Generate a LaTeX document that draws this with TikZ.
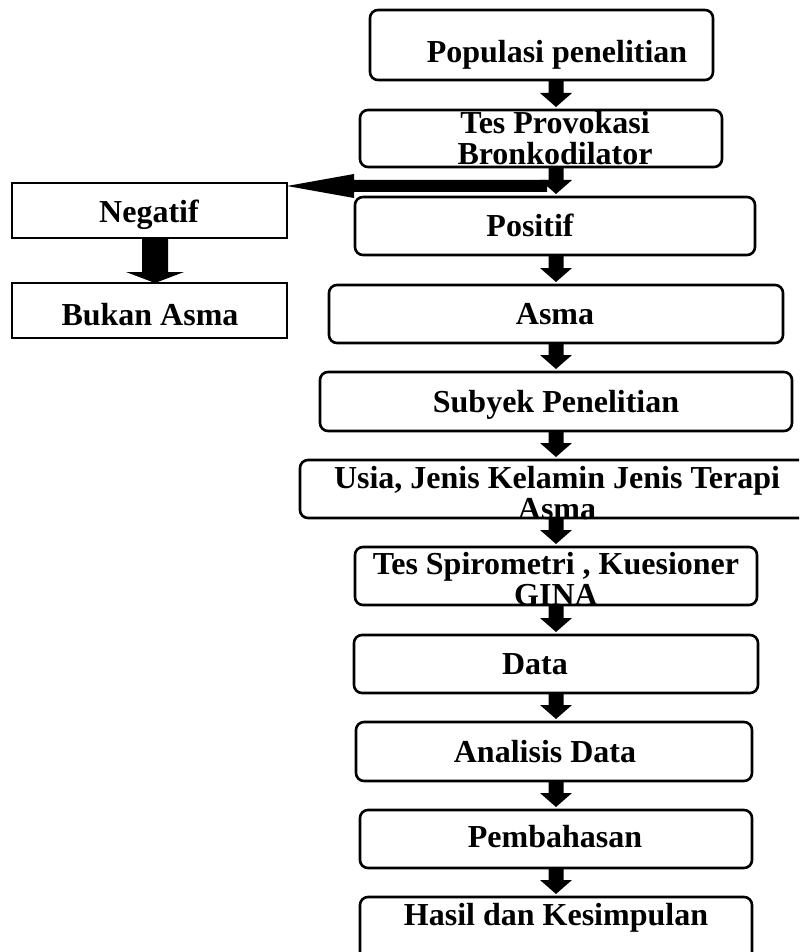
\documentclass[tikz,border=0pt]{standalone}
\usepackage{fontspec}
\setmainfont{Liberation Serif}
\usetikzlibrary{calc}
\begin{document}
\begin{tikzpicture}[x=0.5pt,y=-0.5pt,
  rbox/.style={draw,line width=1.3pt,rounded corners=4pt,inner sep=0pt,outer sep=0pt},
  sbox/.style={draw,line width=1pt,inner sep=0pt,outer sep=0pt},
  txt/.style={font=\fontsize{16}{15.5}\selectfont\bfseries,inner sep=0pt,align=center,anchor=base}]
\useasboundingbox (0,0) rectangle (799,952);
\clip (0,0) rectangle (799,952);
\coordinate (axis) at (556,0);
\coordinate (laxis) at (155,0);
% boxes
\node[rbox,minimum width=171.5pt,minimum height=35pt] (pop) at (541.5,45) {};
\node[rbox,minimum width=181pt,minimum height=28.5pt] (tp) at (541,138.5) {};
\node[rbox,minimum width=200pt,minimum height=29pt] (pos) at (555,226) {};
\node[sbox,minimum width=137.5pt,minimum height=27.5pt] (neg) at (149.5,210.5) {};
\node[sbox,minimum width=137.5pt,minimum height=27.5pt] (buk) at (149.5,310.5) {};
\node[rbox,minimum width=227pt,minimum height=29pt] (asma) at (556,314) {};
\node[rbox,minimum width=236pt,minimum height=29.5pt] (sub) at (556,401.5) {};
\node[rbox,minimum width=265pt,minimum height=29pt] (usia) at (565,489) {};
\node[rbox,minimum width=201pt,minimum height=29pt] (ts) at (556,576) {};
\node[rbox,minimum width=202pt,minimum height=29pt] (data) at (556,664) {};
\node[rbox,minimum width=198pt,minimum height=29.5pt] (ad) at (554,751.5) {};
\node[rbox,minimum width=196pt,minimum height=29pt] (pem) at (556,839) {};
\node[rbox,minimum width=196pt,minimum height=46.5pt] (has) at (556,943.5) {};
% down block arrows
\newcommand\dnarrow[2]{%
  \fill let \p0=(axis), \p1=(#1.south), \p2=(#2.north) in
    (\x0-3.75pt,\y1) -- (\x0+3.75pt,\y1) -- (\x0+3.75pt,\y2+8.5pt) -- (\x0+8pt,\y2+8.5pt)
    -- (\x0,\y2+1.5pt) -- (\x0-8pt,\y2+8.5pt) -- (\x0-3.75pt,\y2+8.5pt) -- cycle;}
% horizontal arrow to Negatif
\fill let \p0=(axis), \p1=(neg.north east) in
  (\x1,\y1-1.5pt) -- (\x1+33.5pt,\y1+4.5pt) -- (\x1+33.5pt,\y1+1.5pt) -- (\x0-4.5pt,\y1+1.5pt)
  -- (\x0-4.5pt,\y1-4.5pt) -- (\x1+33.5pt,\y1-4.5pt) -- (\x1+33.5pt,\y1-7.5pt) -- cycle;
\dnarrow{pop}{tp}
\dnarrow{tp}{pos}
\dnarrow{pos}{asma}
\dnarrow{asma}{sub}
\dnarrow{sub}{usia}
\dnarrow{usia}{ts}
\dnarrow{ts}{data}
\dnarrow{data}{ad}
\dnarrow{ad}{pem}
\dnarrow{pem}{has}
% Negatif -> Bukan Asma
\fill let \p0=(laxis), \p1=(neg.south), \p2=(buk.north) in
  (\x0-6.5pt,\y1) -- (\x0+6.5pt,\y1) -- (\x0+6.5pt,\y2+5.5pt) -- (\x0+14.5pt,\y2+5.5pt)
  -- (\x0,\y2) -- (\x0-14.5pt,\y2+5.5pt) -- (\x0-6.5pt,\y2+5.5pt) -- cycle;
% texts
\node[txt] (tpop) at (557,63) {Populasi penelitian};
\node[txt] (ttp) at (555,165) {Tes Provokasi\\Bronkodilator};
\node[txt] (tpos) at (530,236) {Positif};
\node[txt] (tneg) at (149,223) {Negatif};
\node[txt] (tbuk) at (150,325) {Bukan Asma};
\node[txt] (tasma) at (555,324) {Asma};
\node[txt] (tsub) at (556,412) {Subyek Penelitian};
\node[txt] (tusia) at (557,519) {Usia, Jenis Kelamin Jenis Terapi\\Asma};
\node[txt] (tts) at (556,605) {Tes Spirometri , Kuesioner\\GINA};
\node[txt] (tdata) at (535,674) {Data};
\node[txt] (tad) at (545,762) {Analisis Data};
\node[txt] (tpem) at (555,847) {Pembahasan};
\node[txt] (thas) at (556,925) {Hasil dan Kesimpulan};
\end{tikzpicture}
\end{document}
